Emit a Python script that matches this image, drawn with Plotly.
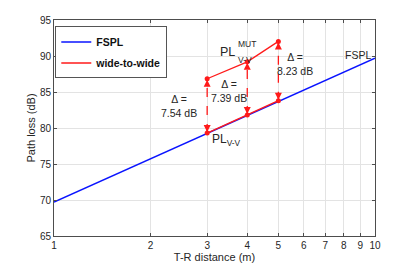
import math
import plotly.graph_objects as go

# ---- data ----
fspl_d = [1, 10]
fspl_pl = [69.7, 89.7]

dist = [3, 4, 5]
pl_vv = [79.3, 81.8, 83.8]          # lower (PL V-V)
pl_mut = [86.84, 89.19, 92.03]      # upper (PL V-V MUT)
deltas = ["7.54", "7.39", "8.23"]

x_ticks = [1, 2, 3, 4, 5, 6, 7, 8, 9, 10]
y_ticks = [65, 70, 75, 80, 85, 90, 95]

RED = "#ff1a1a"
BLUE = "#0a14ff"
FONT = "Liberation Sans, Arial, sans-serif"
TXT = "#262626"

def lx(v):
    # annotation positions on a log axis are given in log10 units
    return math.log10(v)

fig = go.Figure()
fig.add_trace(go.Scatter(x=fspl_d, y=fspl_pl, mode="lines", name="FSPL", legendgroup="a",
                         line=dict(color=BLUE, width=1.5)))
fig.add_trace(go.Scatter(x=dist, y=pl_mut, mode="lines", name="wide-to-wide", legendgroup="b",
                         line=dict(color=RED, width=1.3)))
fig.add_trace(go.Scatter(x=dist, y=pl_mut, mode="markers", showlegend=False,
                         marker=dict(size=5, color=RED)))
fig.add_trace(go.Scatter(x=dist, y=pl_vv, mode="lines+markers", showlegend=False,
                         line=dict(color=RED, width=1.3), marker=dict(size=5, color=RED)))
# dashed vertical delta lines
for d, lo, hi in zip(dist, pl_vv, pl_mut):
    fig.add_trace(go.Scatter(x=[d, d], y=[lo, hi], mode="lines", showlegend=False,
                             line=dict(color=RED, width=1.3, dash="dash")))

annotations = []
for d, lo, hi in zip(dist, pl_vv, pl_mut):
    annotations.append(dict(x=lx(d), y=hi, xref="x", yref="y", ax=0, ay=12, showarrow=True,
                            arrowhead=2, arrowsize=1, arrowwidth=1.4, arrowcolor=RED,
                            standoff=1, text=" "))
    annotations.append(dict(x=lx(d), y=lo, xref="x", yref="y", ax=0, ay=-12, showarrow=True,
                            arrowhead=2, arrowsize=1, arrowwidth=1.4, arrowcolor=RED,
                            standoff=1, text=" "))

txt = dict(color=TXT, family=FONT, size=10.5)
delta_pos = [(2.45, 83.0), (3.5, 85.1), (5.62, 88.9)]
for (px, py), dv in zip(delta_pos, deltas):
    annotations.append(dict(x=lx(px), y=py, xref="x", yref="y", showarrow=False,
                            text="Δ =<br>" + dv + " dB", font=txt, align="center"))

annotations.append(dict(x=lx(10), y=fspl_pl[1], xref="x", yref="y", showarrow=False,
                        text="FSPL", font=txt, xanchor="right", xshift=-2, yshift=3))
annotations.append(dict(x=lx(3.72), y=90.5, xref="x", yref="y", showarrow=False,
                        text="PL", font=dict(color=TXT, family=FONT, size=12.5),
                        xanchor="right"))
annotations.append(dict(x=lx(3.72), y=91.7, xref="x", yref="y", showarrow=False,
                        text="MUT", font=dict(color=TXT, family=FONT, size=8.5),
                        xanchor="left", xshift=-1))
annotations.append(dict(x=lx(3.72), y=89.5, xref="x", yref="y", showarrow=False,
                        text="V-V", font=dict(color=TXT, family=FONT, size=8.5),
                        xanchor="left", xshift=-1))
annotations.append(dict(x=lx(3.06), y=78.3, xref="x", yref="y", showarrow=False,
                        text="PL<sub>V-V</sub>", font=dict(color=TXT, family=FONT, size=12),
                        xanchor="left"))

fig.update_layout(
    width=415, height=265,
    margin=dict(l=54, r=40, t=20, b=29, autoexpand=False),
    paper_bgcolor="white", plot_bgcolor="white",
    font=dict(family=FONT, color=TXT, size=10),
    showlegend=True,
    legend=dict(x=0.004, y=0.97, xanchor="left", yanchor="top",
                bgcolor="white", bordercolor="#555555", borderwidth=1,
                font=dict(family=FONT, size=10.5, color="#111111", weight="bold"),
                itemwidth=30, tracegroupgap=2),
    annotations=annotations,
)
fig.update_xaxes(type="log", range=[0, 1], tickvals=x_ticks, ticktext=[str(v) for v in x_ticks],
                 showgrid=True, gridcolor="#e3e3e3", gridwidth=1,
                 showline=True, linecolor="#4d4d4d", linewidth=1, mirror="ticks",
                 ticks="inside", ticklen=3, tickcolor="#4d4d4d", automargin=False,
                 tickfont=dict(size=10, family=FONT, color=TXT),
                 title=dict(text="T-R distance (m)", font=dict(size=11, family=FONT), standoff=0),
                 zeroline=False)
fig.update_yaxes(range=[65, 95], tickvals=y_ticks,
                 showgrid=True, gridcolor="#e3e3e3", gridwidth=1,
                 showline=True, linecolor="#4d4d4d", linewidth=1, mirror="ticks",
                 ticks="inside", ticklen=3, tickcolor="#4d4d4d", automargin=False,
                 tickfont=dict(size=10, family=FONT, color=TXT),
                 title=dict(text="Path loss (dB)", font=dict(size=11, family=FONT), standoff=2),
                 zeroline=False)

fig.write_html("out.html", config={"displayModeBar": False},
               post_script="document.body.style.margin='0';")
